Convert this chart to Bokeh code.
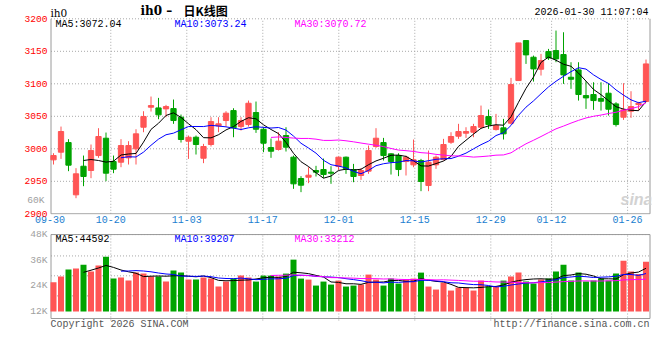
import numpy as np
import pandas as pd
from bokeh.plotting import figure
from bokeh.layouts import column
from bokeh.models import Range1d, FixedTicker, Label, LinearAxis, ColumnDataSource
from bokeh.embed import file_html
from bokeh.resources import INLINE

# ---- data (IH0 daily K line) ----
opens = [2983.0, 2994.8, 3009.6, 2929.2, 2973.2, 2966.6, 2989.6, 3016.3, 2980.4, 2979.4,
         2986.1, 2999.9, 3033.2, 3064.0, 3062.9, 3061.4, 3061.9, 3048.6, 3011.7, 3017.8,
         2985.5, 3006.6, 3035.3, 3043.5, 3058.8, 3034.2, 3037.3, 3055.8, 3030.1, 3001.9,
         2998.9, 3020.4, 2987.1, 2954.3, 2956.3, 2966.6, 2968.1, 2964.0, 2972.7, 2987.1,
         2968.1, 2958.9, 2965.6, 3003.5, 3009.6, 2992.2, 2989.6, 2980.4, 2975.3, 2982.0,
         2943.5, 2975.3, 2983.5, 3010.1, 3019.4, 3024.0, 3025.5, 3033.2, 3049.6, 3029.6,
         3032.2, 3039.4, 3105.0, 3166.5, 3140.9, 3122.4, 3149.6, 3151.1, 3145.0, 3110.1,
         3121.4, 3081.9, 3083.5, 3077.3, 3085.5, 3069.1, 3048.6, 3057.8, 3068.1, 3072.7]
closes = [2989.6, 3026.6, 2974.8, 2961.5, 2957.4, 2997.3, 3018.9, 2962.5, 2968.6, 3005.0,
          3005.0, 3023.0, 3049.6, 3066.5, 3052.2, 3065.0, 3043.5, 3014.3, 3017.8, 3006.6,
          3003.5, 3041.9, 3038.4, 3054.8, 3032.2, 3043.5, 3070.1, 3030.1, 3008.6, 2996.3,
          3011.7, 3002.5, 2946.1, 2944.0, 2959.4, 2964.0, 2960.4, 2962.5, 2987.1, 2969.1,
          2957.4, 2966.6, 2997.3, 3016.3, 2989.6, 2980.4, 2968.1, 2987.1, 2983.0, 2949.7,
          2979.4, 2987.1, 3006.6, 3018.9, 3026.6, 3026.6, 3034.2, 3051.2, 3037.3, 3035.8,
          3023.0, 3098.8, 3162.9, 3144.5, 3122.9, 3135.8, 3139.8, 3138.3, 3113.7, 3107.0,
          3083.5, 3078.3, 3074.2, 3073.2, 3060.9, 3037.3, 3059.9, 3065.0, 3070.1, 3130.6]
highs = [2993.2, 3034.2, 3014.8, 2970.2, 2989.6, 3006.6, 3031.7, 3025.0, 2989.6, 3014.8,
         3011.7, 3030.1, 3057.8, 3080.4, 3078.3, 3067.6, 3075.8, 3052.7, 3020.4, 3020.4,
         3007.6, 3048.6, 3048.6, 3057.8, 3062.4, 3048.6, 3074.2, 3072.7, 3033.2, 3015.8,
         3025.5, 3033.2, 2989.6, 2957.9, 2971.7, 2973.8, 2985.0, 2973.2, 2988.1, 2988.1,
         2976.8, 2970.2, 3005.0, 3031.7, 3016.8, 2993.2, 2993.2, 2989.6, 3014.3, 2984.5,
         2997.3, 2989.6, 3015.3, 3025.5, 3038.4, 3033.2, 3038.4, 3066.5, 3060.4, 3053.7,
         3046.0, 3109.1, 3162.9, 3166.5, 3143.4, 3146.0, 3153.7, 3181.9, 3179.3, 3133.2,
         3133.2, 3104.0, 3102.4, 3102.4, 3100.9, 3071.7, 3100.9, 3088.6, 3072.2, 3137.3]
lows = [2975.8, 2984.5, 2965.6, 2924.0, 2942.5, 2954.8, 2986.1, 2950.2, 2962.5, 2971.7,
        2975.8, 2975.8, 3025.5, 3057.3, 3045.5, 3048.6, 3038.4, 3009.6, 2984.5, 2991.2,
        2977.9, 3003.5, 3025.5, 3034.2, 3017.8, 3028.1, 3034.2, 3024.5, 2994.8, 2986.1,
        2997.3, 2995.8, 2938.4, 2933.3, 2947.1, 2957.4, 2955.3, 2946.1, 2967.6, 2961.5,
        2948.6, 2952.2, 2961.5, 3001.4, 2982.0, 2960.4, 2957.9, 2958.9, 2971.7, 2934.8,
        2934.8, 2969.1, 2982.0, 3007.6, 3015.3, 3016.8, 3017.8, 3030.7, 3030.7, 3028.1,
        3014.3, 3037.3, 3105.0, 3130.6, 3103.4, 3112.7, 3136.8, 3133.2, 3099.9, 3092.2,
        3074.2, 3061.4, 3059.9, 3058.8, 3051.2, 3034.2, 3044.5, 3047.6, 3058.8, 3071.7]
volumes = [25690, 28330, 31600, 32070, 33930, 30670, 33470, 37670, 27400, 27870,
           26470, 30200, 29730, 28330, 28330, 26000, 31130, 30200, 26930, 26930,
           27870, 27400, 23670, 26000, 27400, 28800, 27870, 26000, 28800, 28800,
           28330, 29730, 36270, 27400, 26930, 24130, 26000, 24600, 26470, 23670,
           24130, 24600, 29270, 26930, 24130, 27400, 25070, 26930, 27400, 30200,
           23670, 22270, 25530, 21800, 23200, 23040, 21800, 26470, 23670, 23670,
           26470, 28330, 30200, 26000, 25070, 26930, 27400, 30670, 33930, 26470,
           30200, 26000, 26470, 27400, 26470, 29730, 35800, 30670, 29580, 35330]

date_labels = ["09-30", "10-20", "11-03", "11-17", "12-01", "12-15", "12-29", "01-12", "01-26"]
date_label_idx = [0, 8, 18, 28, 38, 48, 58, 66, 76]
price_ticks = [2900, 2950, 3000, 3050, 3100, 3150, 3200]
volume_ticks = [12000, 24000, 36000, 48000]
volume_tick_labels = ["12K", "24K", "36K", "48K"]
volume_grid = [19300, 28700, 38000]
stray_label_price = 2919.7          # where the grey "60K" sits on the price scale
ma_windows = [5, 10, 30]
ma_price_labels = ["MA5:3072.04", "MA10:3073.24", "MA30:3070.72"]
ma_volume_labels = ["MA5:44592", "MA10:39207", "MA30:33212"]

# ---- styles ----
RED = "#ff5555"
GREEN = "#00a300"
MA_COLORS = ["#000000", "#0000ff", "#ff00ff"]
MONO = "Liberation Mono"
GRID_C = "#a8a8a8"
FRAME_C = "#9a9a9a"

n = len(closes)
idx = np.arange(n)
o = np.array(opens, float)
c = np.array(closes, float)
colors = [RED if up else GREEN for up in (c >= o)]
src = ColumnDataSource(dict(x=idx, high=highs, low=lows, top=np.maximum(o, c),
                            bottom=np.minimum(o, c), color=colors, vol=volumes))
cs = pd.Series(closes)
vs = pd.Series(volumes)


# pixel geometry (candle i centred at 53 + 7.5 i px)
def fx(px):
    return (px - 53) / 7.5


def fy1(py):            # main panel: 0.65 px per index point, 2900 at y=213.3
    return 2900 + (213.3 - py) / 0.65


def fy2(py):            # volume panel: page y -> volume (12K at y=311)
    return 12000 + (311 - py) * 467.9


H1 = 228                # height of the K-line figure (frame ends at y=214)
xr = Range1d(fx(49), fx(651))
XL, XR = fx(50.5), fx(649.5)
date_tick_pos = [round((k * 7.6 - 3.5) / 7.5, 3) for k in date_label_idx]
date_overrides = {pos: lab for pos, lab in zip(date_tick_pos, date_labels)}


def style_axis(ax, color, standoff=2, size="9.6px"):
    ax.axis_line_color = None
    ax.major_tick_line_color = None
    ax.minor_tick_line_color = None
    ax.major_tick_out = 0
    ax.major_tick_in = 0
    ax.major_label_standoff = standoff
    ax.major_label_text_color = color
    ax.major_label_text_font = MONO
    ax.major_label_text_font_size = size


def lab(p, x, y, text, color="#000000", size="10px", align="left", font=MONO, style="normal"):
    p.add_layout(Label(x=x, y=y, text=text, text_color=color, text_font_size=size,
                       text_align=align, text_baseline="middle", text_font=font,
                       text_font_style=style))


def panel_frame(p, ybot, ytop, hgrid, vbot, vtop):
    hs = list(hgrid) + [ytop]
    p.segment(x0=[XL] * len(hs), y0=hs, x1=[XR] * len(hs), y1=hs,
              line_color=GRID_C, line_width=1, line_dash="1 2")
    vx = date_tick_pos[1:]
    p.segment(x0=vx, y0=[vbot] * len(vx), x1=vx, y1=[vtop] * len(vx),
              line_color=GRID_C, line_width=1, line_dash="1 2")
    p.segment(x0=[XL, XR, XL], y0=[ybot, ybot, ybot], x1=[XL, XR, XR], y1=[ytop, ytop, ybot],
              line_color=FRAME_C, line_width=1)


# ---- main K-line panel ----
p1 = figure(width=660, height=H1, x_range=xr, y_range=Range1d(fy1(214), fy1(0)),
            output_backend="svg", toolbar_location=None, title=None,
            min_border_left=49, min_border_right=9, min_border_top=0,
            min_border_bottom=H1 - 214)
p1.outline_line_color = None
p1.grid.visible = False
style_axis(p1.yaxis[0], "#ff0000")
p1.yaxis[0].ticker = FixedTicker(ticks=price_ticks)
ax60 = LinearAxis(ticker=FixedTicker(ticks=[stray_label_price]),
                  major_label_overrides={stray_label_price: "60K"})
style_axis(ax60, "#a0a0a0", standoff=-23)
p1.add_layout(ax60, "left")
xa = p1.xaxis[0]
style_axis(xa, "#1a80d0", standoff=1, size="10px")
xa.ticker = FixedTicker(ticks=date_tick_pos)
xa.major_label_overrides = date_overrides

panel_frame(p1, price_ticks[0], price_ticks[-1], price_ticks[1:-1], price_ticks[0], price_ticks[-1])

p1.segment(x0="x", y0="high", x1="x", y1="low", line_color="color", line_width=1, source=src)
p1.vbar(x="x", width=0.7, top="top", bottom="bottom", fill_color="color",
        line_color="color", line_width=1, source=src)
for w, col in zip(ma_windows, MA_COLORS):
    p1.line(idx, cs.rolling(w).mean(), line_color=col, line_width=1)

lab(p1, fx(50), fy1(12.5), "ih0", size="10.5px", font="DejaVu Serif")
lab(p1, fx(140), fy1(10), "ih0 \u2013", size="12px", font="DejaVu Serif", style="bold")
lab(p1, fx(183), fy1(9.5), "日K线图", size="12px", font="Noto Sans CJK SC", style="bold")
lab(p1, fx(648), fy1(12), "2026-01-30 11:07:04", align="right")
for xpos, text, col in zip([55, 174, 294], ma_price_labels, MA_COLORS):
    lab(p1, fx(xpos), fy1(23.7), text, color=col)
lab(p1, fx(636), fy1(199), "sina", color="#d2d2d2", size="16px", align="center",
    font="Liberation Sans", style="bold italic")

# ---- volume panel ----
p2 = figure(width=660, height=360 - H1, x_range=xr, y_range=Range1d(fy2(360), fy2(233)),
            output_backend="svg", toolbar_location=None, x_axis_location=None, title=None,
            min_border_left=49, min_border_right=9, min_border_top=233 - H1, min_border_bottom=0)
p2.outline_line_color = None
p2.grid.visible = False
style_axis(p2.yaxis[0], "#a0a0a0")
p2.yaxis[0].ticker = FixedTicker(ticks=volume_ticks)
p2.yaxis[0].major_label_overrides = dict(zip(volume_ticks, volume_tick_labels))

vol_bottom, vol_top = fy2(318), volume_ticks[-1]
panel_frame(p2, vol_bottom, vol_top, volume_grid, fy2(320), vol_top)
p2.segment(x0=[XL], y0=[vol_top], x1=[XR], y1=[vol_top], line_color=FRAME_C, line_width=1)

p2.vbar(x="x", width=0.8, top="vol", bottom=volume_ticks[0], fill_color="color",
        line_color=None, source=src)
for w, col in zip(ma_windows, MA_COLORS):
    p2.line(idx, vs.rolling(w).mean(), line_color=col, line_width=1)

for xpos, text, col in zip([55, 174, 294], ma_volume_labels, MA_COLORS):
    lab(p2, fx(xpos), fy2(238.7), text, color=col)
lab(p2, fx(50), fy2(323.5), "Copyright 2026 SINA.COM", color="#555555")
lab(p2, fx(649), fy2(324), "http://finance.sina.com.cn", color="#555555", align="right")

layout = column(p1, p2, spacing=0)
with open("out.html", "w") as f:
    f.write(file_html(layout, INLINE, "ih0 - 日K线图"))
